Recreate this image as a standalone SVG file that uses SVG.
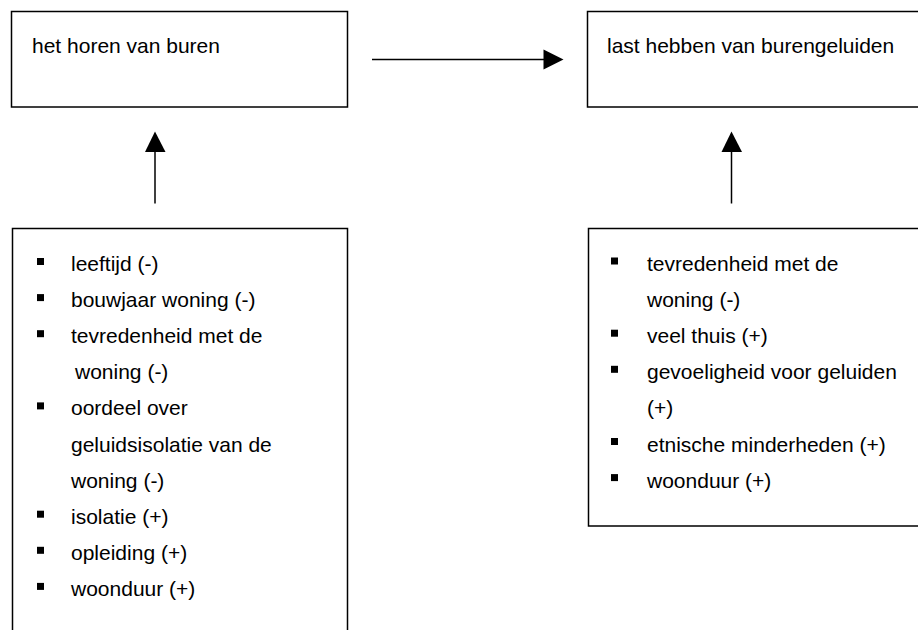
<svg xmlns="http://www.w3.org/2000/svg" width="918" height="630" viewBox="0 0 918 630">
  <style>
    .box { fill: #ffffff; stroke: #000000; stroke-width: 1.5; }
    .txt { font-family: "Liberation Sans", Arial, sans-serif; font-size: 21px; fill: #000000; }
    .bul { fill: #000000; }
    .conn { stroke: #000000; stroke-width: 1.5; fill: none; }
    .head { fill: #000000; }
  </style>
  <rect width="918" height="630" fill="#ffffff"/>

  <g id="node-horen">
    <rect class="box" x="11.5" y="11.5" width="336" height="95.5"/>
    <text class="txt" x="32" y="53">het horen van buren</text>
  </g>

  <g id="node-last">
    <path class="box" d="M919,11.5 H587.5 V107 H919"/>
    <text class="txt" x="607" y="53">last hebben van burengeluiden</text>
  </g>

  <g id="node-factoren-horen">
    <path class="box" d="M12.5,632 V228.5 H347.5 V632"/>
    <g class="bul">
      <rect x="37" y="258" width="7" height="7"/>
      <rect x="37" y="294.1" width="7" height="7"/>
      <rect x="37" y="330.2" width="7" height="7"/>
      <rect x="37" y="402.4" width="7" height="7"/>
      <rect x="37" y="510.7" width="7" height="7"/>
      <rect x="37" y="546.8" width="7" height="7"/>
      <rect x="37" y="582.9" width="7" height="7"/>
    </g>
    <text class="txt" x="71" y="271">leeftijd (-)</text>
    <text class="txt" x="71" y="307.1">bouwjaar woning (-)</text>
    <text class="txt" x="71" y="343.2">tevredenheid met de</text>
    <text class="txt" x="75" y="379.3">woning (-)</text>
    <text class="txt" x="71" y="415.4">oordeel over</text>
    <text class="txt" x="71" y="451.5">geluidsisolatie van de</text>
    <text class="txt" x="71" y="487.6">woning (-)</text>
    <text class="txt" x="71" y="523.7">isolatie (+)</text>
    <text class="txt" x="71" y="559.8">opleiding (+)</text>
    <text class="txt" x="71" y="595.9">woonduur (+)</text>
  </g>

  <g id="node-factoren-last">
    <path class="box" d="M919,228.5 H588.5 V526 H919"/>
    <g class="bul">
      <rect x="611" y="257.5" width="7" height="7"/>
      <rect x="611" y="329.7" width="7" height="7"/>
      <rect x="611" y="365.8" width="7" height="7"/>
      <rect x="611" y="438" width="7" height="7"/>
      <rect x="611" y="474.1" width="7" height="7"/>
    </g>
    <text class="txt" x="647" y="271">tevredenheid met de</text>
    <text class="txt" x="647" y="307.1">woning (-)</text>
    <text class="txt" x="647" y="343.2">veel thuis (+)</text>
    <text class="txt" x="647" y="379.3">gevoeligheid voor geluiden</text>
    <text class="txt" x="647" y="415.4">(+)</text>
    <text class="txt" x="647" y="451.5">etnische minderheden (+)</text>
    <text class="txt" x="647" y="487.6">woonduur (+)</text>
  </g>

  <g id="connectors">
    <!-- horen -> last -->
    <line class="conn" x1="372" y1="59.5" x2="545" y2="59.5"/>
    <polygon class="head" points="543.5,49.5 563.5,59.5 543.5,69.5"/>
    <!-- left factors -> horen -->
    <line class="conn" x1="155" y1="203.5" x2="155" y2="150"/>
    <polygon class="head" points="145,152 155,131.5 165.5,152"/>
    <!-- right factors -> last -->
    <line class="conn" x1="731.5" y1="203.5" x2="731.5" y2="150"/>
    <polygon class="head" points="721.5,152 731.5,131.5 742,152"/>
  </g>
</svg>
